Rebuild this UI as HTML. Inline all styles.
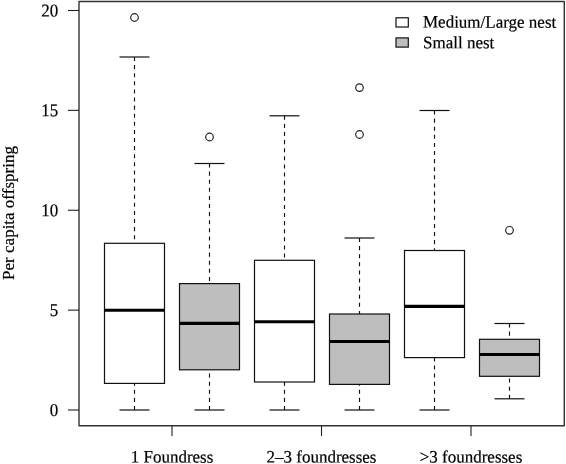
<!DOCTYPE html><html><head><meta charset="utf-8"><style>html,body{margin:0;padding:0;background:#fff}svg{display:block;will-change:transform}text{font-family:"Liberation Serif",serif;fill:#000;stroke:#000;stroke-width:0.2px}</style></head><body>
<svg width="566" height="464" viewBox="0 0 566 464">
<rect width="566" height="464" fill="#fff"/>
<rect x="104.5" y="243.3" width="60" height="140.09999999999997" fill="#fff" stroke="#111" stroke-width="1.2"/>
<line x1="104.5" x2="164.5" y1="310.3" y2="310.3" stroke="#000" stroke-width="3.1"/>
<line x1="134.5" x2="134.5" y1="57" y2="243.3" stroke="#111" stroke-width="1.15" stroke-dasharray="4.05 4.05"/>
<line x1="134.5" x2="134.5" y1="410" y2="383.4" stroke="#111" stroke-width="1.15" stroke-dasharray="4.05 4.05"/>
<line x1="119.5" x2="149.5" y1="57" y2="57" stroke="#111" stroke-width="1.2"/>
<line x1="119.5" x2="149.5" y1="410" y2="410" stroke="#111" stroke-width="1.2"/>
<circle cx="134.5" cy="17.5" r="3.8" fill="none" stroke="#222" stroke-width="1.2"/>
<rect x="179.5" y="283.6" width="60" height="86.19999999999999" fill="#bebebe" stroke="#111" stroke-width="1.2"/>
<line x1="179.5" x2="239.5" y1="323.4" y2="323.4" stroke="#000" stroke-width="3.1"/>
<line x1="209.5" x2="209.5" y1="163.5" y2="283.6" stroke="#111" stroke-width="1.15" stroke-dasharray="4.05 4.05"/>
<line x1="209.5" x2="209.5" y1="410" y2="369.8" stroke="#111" stroke-width="1.15" stroke-dasharray="4.05 4.05"/>
<line x1="194.5" x2="224.5" y1="163.5" y2="163.5" stroke="#111" stroke-width="1.2"/>
<line x1="194.5" x2="224.5" y1="410" y2="410" stroke="#111" stroke-width="1.2"/>
<circle cx="209.5" cy="137" r="3.8" fill="none" stroke="#222" stroke-width="1.2"/>
<rect x="254.5" y="260.3" width="60" height="121.69999999999999" fill="#fff" stroke="#111" stroke-width="1.2"/>
<line x1="254.5" x2="314.5" y1="321.8" y2="321.8" stroke="#000" stroke-width="3.1"/>
<line x1="284.5" x2="284.5" y1="115.8" y2="260.3" stroke="#111" stroke-width="1.15" stroke-dasharray="4.05 4.05"/>
<line x1="284.5" x2="284.5" y1="410" y2="382" stroke="#111" stroke-width="1.15" stroke-dasharray="4.05 4.05"/>
<line x1="269.5" x2="299.5" y1="115.8" y2="115.8" stroke="#111" stroke-width="1.2"/>
<line x1="269.5" x2="299.5" y1="410" y2="410" stroke="#111" stroke-width="1.2"/>
<rect x="329.5" y="314" width="60" height="70.39999999999998" fill="#bebebe" stroke="#111" stroke-width="1.2"/>
<line x1="329.5" x2="389.5" y1="341.5" y2="341.5" stroke="#000" stroke-width="3.1"/>
<line x1="359.5" x2="359.5" y1="238" y2="314" stroke="#111" stroke-width="1.15" stroke-dasharray="4.05 4.05"/>
<line x1="359.5" x2="359.5" y1="410" y2="384.4" stroke="#111" stroke-width="1.15" stroke-dasharray="4.05 4.05"/>
<line x1="344.5" x2="374.5" y1="238" y2="238" stroke="#111" stroke-width="1.2"/>
<line x1="344.5" x2="374.5" y1="410" y2="410" stroke="#111" stroke-width="1.2"/>
<circle cx="359.5" cy="87.6" r="3.8" fill="none" stroke="#222" stroke-width="1.2"/>
<circle cx="359.5" cy="134.5" r="3.8" fill="none" stroke="#222" stroke-width="1.2"/>
<rect x="404.5" y="250.5" width="60" height="107.10000000000002" fill="#fff" stroke="#111" stroke-width="1.2"/>
<line x1="404.5" x2="464.5" y1="306.4" y2="306.4" stroke="#000" stroke-width="3.1"/>
<line x1="434.5" x2="434.5" y1="110.5" y2="250.5" stroke="#111" stroke-width="1.15" stroke-dasharray="4.05 4.05"/>
<line x1="434.5" x2="434.5" y1="410" y2="357.6" stroke="#111" stroke-width="1.15" stroke-dasharray="4.05 4.05"/>
<line x1="419.5" x2="449.5" y1="110.5" y2="110.5" stroke="#111" stroke-width="1.2"/>
<line x1="419.5" x2="449.5" y1="410" y2="410" stroke="#111" stroke-width="1.2"/>
<rect x="479.5" y="339.3" width="60" height="37.0" fill="#bebebe" stroke="#111" stroke-width="1.2"/>
<line x1="479.5" x2="539.5" y1="354.5" y2="354.5" stroke="#000" stroke-width="3.1"/>
<line x1="509.5" x2="509.5" y1="323.5" y2="339.3" stroke="#111" stroke-width="1.15" stroke-dasharray="4.05 4.05"/>
<line x1="509.5" x2="509.5" y1="398.8" y2="376.3" stroke="#111" stroke-width="1.15" stroke-dasharray="4.05 4.05"/>
<line x1="494.5" x2="524.5" y1="323.5" y2="323.5" stroke="#111" stroke-width="1.2"/>
<line x1="494.5" x2="524.5" y1="398.8" y2="398.8" stroke="#111" stroke-width="1.2"/>
<circle cx="509.5" cy="230.3" r="3.8" fill="none" stroke="#222" stroke-width="1.2"/>
<rect x="79" y="1.5" width="485.3" height="424.3" fill="none" stroke="#333" stroke-width="1.4" stroke-linejoin="round"/>
<line x1="68" x2="79" y1="410.0" y2="410.0" stroke="#222" stroke-width="1.1"/>
<text transform="translate(58.2,415.90) matrix(1 0.001 -0.001 1.06 0 0)" font-size="17" text-anchor="end">0</text>
<line x1="68" x2="79" y1="310.125" y2="310.125" stroke="#222" stroke-width="1.1"/>
<text transform="translate(58.2,316.02) matrix(1 0.001 -0.001 1.06 0 0)" font-size="17" text-anchor="end">5</text>
<line x1="68" x2="79" y1="210.25" y2="210.25" stroke="#222" stroke-width="1.1"/>
<text transform="translate(58.2,216.15) matrix(1 0.001 -0.001 1.06 0 0)" font-size="17" text-anchor="end">10</text>
<line x1="68" x2="79" y1="110.375" y2="110.375" stroke="#222" stroke-width="1.1"/>
<text transform="translate(58.2,116.28) matrix(1 0.001 -0.001 1.06 0 0)" font-size="17" text-anchor="end">15</text>
<line x1="68" x2="79" y1="10.5" y2="10.5" stroke="#222" stroke-width="1.1"/>
<text transform="translate(58.2,16.40) matrix(1 0.001 -0.001 1.06 0 0)" font-size="17" text-anchor="end">20</text>
<line x1="172" x2="172" y1="425.75" y2="436" stroke="#222" stroke-width="1.1"/>
<text transform="translate(172,462.6) matrix(1 0.001 -0.001 1.025 0 0)" font-size="17" text-anchor="middle">1 Foundress</text>
<line x1="321.5" x2="321.5" y1="425.75" y2="436" stroke="#222" stroke-width="1.1"/>
<text transform="translate(321.5,462.6) matrix(1 0.001 -0.001 1.025 0 0)" font-size="17" text-anchor="middle">2–3 foundresses</text>
<line x1="471" x2="471" y1="425.75" y2="436" stroke="#222" stroke-width="1.1"/>
<text transform="translate(471,462.6) matrix(1 0.001 -0.001 1.025 0 0)" font-size="17" text-anchor="middle">&gt;3 foundresses</text>
<text transform="translate(13.5,213) rotate(-90)" font-size="17" text-anchor="middle">Per capita offspring</text>
<rect x="396" y="17.8" width="12.3" height="9.2" fill="#fff" stroke="#111" stroke-width="1.2"/>
<rect x="396" y="37.9" width="12.3" height="9.2" fill="#bebebe" stroke="#111" stroke-width="1.2"/>
<text transform="translate(423,27.6) matrix(1 0.001 -0.001 1.025 0 0)" font-size="17">Medium/Large nest</text>
<text transform="translate(423,48.2) matrix(1 0.001 -0.001 1.025 0 0)" font-size="17">Small nest</text>
</svg></body></html>
